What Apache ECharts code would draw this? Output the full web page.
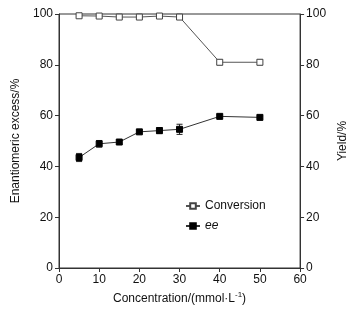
<!DOCTYPE html>
<html>
<head>
<meta charset="utf-8">
<script src="https://cdn.jsdelivr.net/npm/echarts@6/dist/echarts.min.js"></script>
<style>
  html, body { margin: 0; padding: 0; background: #fff; }
  #container { width: 357px; height: 316px; }
</style>
</head>
<body>
<div id="container"></div>
<script>
var dom = document.getElementById('container');
var myChart = echarts.init(dom);

// concentration (mmol/L)
var conc = [5, 10, 15, 20, 25, 30, 40, 50];
// conversion (%) and its error
var conversion = [99.3, 99.2, 98.8, 98.8, 99.2, 98.8, 81.0, 81.0];
var conversionErr = [0.4, 0.4, 0.4, 0.4, 0.4, 0.4, 1.0, 1.0];
// ee (%) and its error
var ee = [43.5, 48.9, 49.6, 53.6, 54.1, 54.6, 59.7, 59.3];
var eeErr = [1.6, 1.3, 0.7, 0.6, 1.2, 2.0, 0.6, 0.5];

var pairs = function (ys) {
  var res = [];
  for (var i = 0; i < conc.length; i++) res.push([conc[i], ys[i]]);
  return res;
};
var errData = function (ys, es) {
  var res = [];
  for (var i = 0; i < conc.length; i++) res.push([conc[i], ys[i] - es[i], ys[i] + es[i]]);
  return res;
};
var renderErr = function (params, api) {
  var top = api.coord([api.value(0), api.value(2)]);
  var bot = api.coord([api.value(0), api.value(1)]);
  var hw = 3;
  var st = { stroke: '#222', lineWidth: 1 };
  return {
    type: 'group',
    children: [
      { type: 'line', shape: { x1: top[0], y1: top[1], x2: bot[0], y2: bot[1] }, style: st },
      { type: 'line', shape: { x1: top[0] - hw, y1: top[1], x2: top[0] + hw, y2: top[1] }, style: st },
      { type: 'line', shape: { x1: bot[0] - hw, y1: bot[1], x2: bot[0] + hw, y2: bot[1] }, style: st }
    ]
  };
};

var axisCol = '#333';
var font = 'Liberation Sans, Arial, sans-serif';

var yAx = function (pos, name, gap) {
  return {
    type: 'value', position: pos, min: 0, max: 100, interval: 20,
    name: name, nameLocation: 'middle', nameGap: gap, nameRotate: 90,
    nameTextStyle: { color: '#111', fontSize: 12, fontFamily: font },
    axisLine: { show: true, lineStyle: { color: axisCol } },
    axisTick: { show: true, inside: false, length: 4, lineStyle: { color: axisCol } },
    axisLabel: { color: '#111', fontSize: 12, fontFamily: font, margin: 6 },
    splitLine: { show: false }
  };
};

var option = {
  animation: false,
  backgroundColor: '#fff',
  grid: { left: 59, right: 43, top: 14, bottom: 48, show: true, borderColor: axisCol, borderWidth: 1 },
  xAxis: {
    type: 'value', min: 0, max: 60, interval: 10,
    name: 'Concentration/(mmol·L{s|-1})', nameLocation: 'middle', nameGap: 22,
    nameTextStyle: { color: '#111', fontSize: 12, fontFamily: font,
      rich: { s: { fontSize: 8, verticalAlign: 'top', padding: [0, 0, 8, 0], color: '#111', fontFamily: font } } },
    axisLine: { lineStyle: { color: axisCol } },
    axisTick: { length: 4, lineStyle: { color: axisCol } },
    axisLabel: { color: '#111', fontSize: 12, fontFamily: font, margin: 6 },
    splitLine: { show: false }
  },
  yAxis: [yAx('left', 'Enantiomeric excess/%', 36), yAx('right', 'Yield/%', 26)],
  legend: {
    orient: 'vertical', left: 180, top: 195, itemGap: 8, itemWidth: 14, itemHeight: 7,
    data: ['Conversion', 'ee'],
    formatter: function (n) { return n === 'ee' ? '{i|ee}' : n; },
    textStyle: { color: '#111', fontSize: 12, fontFamily: font,
      rich: { i: { fontStyle: 'italic', fontSize: 12, fontFamily: font, color: '#111' } } }
  },
  series: [
    { type: 'custom', renderItem: renderErr, data: errData(conversion, conversionErr), z: 1, silent: true },
    { type: 'custom', renderItem: renderErr, data: errData(ee, eeErr), z: 1, silent: true },
    {
      name: 'Conversion', type: 'line', data: pairs(conversion), symbol: 'rect', symbolSize: 6,
      lineStyle: { color: '#555', width: 1 },
      itemStyle: { color: '#fff', borderColor: '#444', borderWidth: 1 }, z: 3
    },
    {
      name: 'ee', type: 'line', data: pairs(ee), symbol: 'rect', symbolSize: 6,
      lineStyle: { color: '#333', width: 1 },
      itemStyle: { color: '#000', borderColor: '#000', borderWidth: 1 }, z: 3
    }
  ]
};
myChart.setOption(option);
</script>
</body>
</html>
